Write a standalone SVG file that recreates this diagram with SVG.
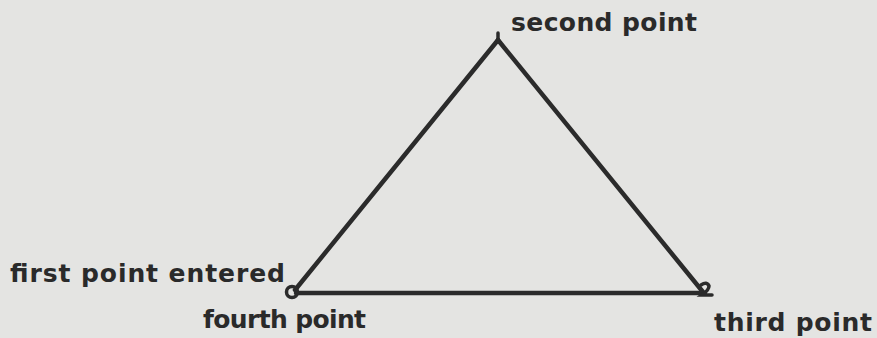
<svg xmlns="http://www.w3.org/2000/svg" width="877" height="338" viewBox="0 0 877 338">
<style>
.lbl{font-family:"DejaVu Sans","Liberation Sans",sans-serif;font-weight:bold;font-size:25px;fill:#2a2a2a}
.edge{stroke:#2b2b2b;stroke-width:4.5;fill:none;stroke-linecap:round;stroke-linejoin:round}
.mark{stroke:#2b2b2b;stroke-width:3.5;fill:none;stroke-linecap:round}
</style>
<rect width="877" height="338" fill="#e4e4e2"/>
<g id="connectors">
<path class="edge" d="M295,290 L498,40"/>
<path class="edge" d="M498,40 L703,292"/>
<path class="edge" d="M296,293 L703,293"/>
</g>
<g id="first">
<circle class="mark" cx="292" cy="292" r="5.5"/>
<text class="lbl" x="10" y="282" textLength="275" lengthAdjust="spacing">first point entered</text>
</g>
<g id="fourth">
<text class="lbl" x="203" y="328" textLength="163" lengthAdjust="spacing">fourth point</text>
</g>
<g id="second">
<path class="mark" d="M498,33 L498,42"/>
<text class="lbl" x="511" y="31" textLength="186" lengthAdjust="spacing">second point</text>
</g>
<g id="third">
<path class="mark" d="M701,285 Q707,281 709,286 Q709,290 702,295 L712,295"/>
<text class="lbl" x="714" y="331" textLength="158" lengthAdjust="spacing">third point</text>
</g>
</svg>
